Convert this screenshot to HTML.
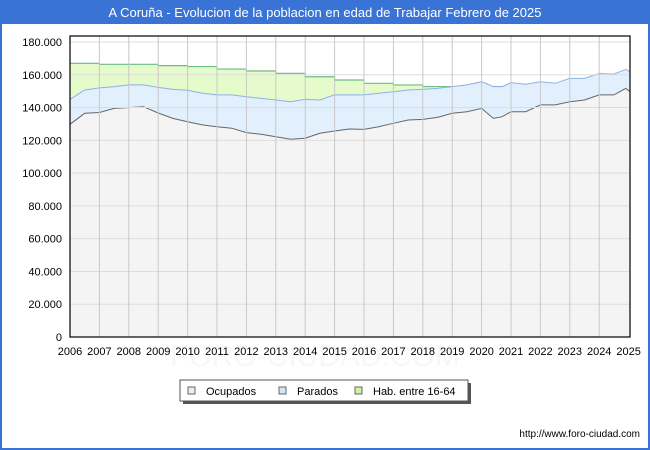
<!DOCTYPE html>
<html><head><meta charset="utf-8"><style>
body{margin:0;background:#fff;font-family:"Liberation Sans","DejaVu Sans",sans-serif}
#wrap{position:relative;width:646px;height:446px;border:2px solid #3a73d6;background:#fff;overflow:hidden}
#title{position:absolute;left:0;top:0;width:646px;height:22px;background:#3a73d6;color:#fff;font-size:13px;line-height:22px;text-align:center}
</style></head><body>
<div id="wrap">
<div id="title">A Coruña - Evolucion de la poblacion en edad de Trabajar Febrero de 2025</div>
<svg id="chart" width="650" height="450" style="position:absolute;left:-2px;top:-2px"></svg>
</div>
<script>
const dates=[2006.0,2006.5,2007.0,2007.5,2008.0,2008.5,2009.0,2009.5,2010.0,2010.5,2011.0,2011.5,2012.0,2012.5,2013.0,2013.5,2014.0,2014.5,2015.0,2015.5,2016.0,2016.5,2017.0,2017.5,2018.0,2018.5,2019.0,2019.5,2020.0,2020.4,2020.7,2021.0,2021.5,2022.0,2022.5,2023.0,2023.5,2024.0,2024.5,2024.9,2025.1];
const ocupados=[129800,136500,137000,139500,140000,140500,136700,133400,131400,129400,128300,127400,124700,123700,122200,120600,121300,124300,125700,126900,126700,128300,130400,132400,132800,134000,136500,137500,139500,133400,134400,137500,137500,141600,141600,143600,144600,147700,147700,151700,149700];
const paradosTop=[145000,150700,152000,152800,153800,153800,152300,151100,150500,148700,147700,147700,146600,145600,144600,143600,145000,144600,147700,147700,147700,148700,149700,150700,151100,151700,152800,153800,155800,152800,152800,155200,154200,155800,154800,157800,157800,160800,160400,163300,161900];
const parados=paradosTop.map((v,i)=>v-ocupados[i]);
const habYears=[2006,2007,2008,2009,2010,2011,2012,2013,2014,2015,2016,2017,2018,2019,2020,2021,2022,2023,2024,2025];
const hab=[167000,166400,166400,165600,165000,163500,162300,160900,158800,156800,154800,153800,152800,152000,152800,153800,154000,155000,156000,157000];
const yTicks=[0,20000,40000,60000,80000,100000,120000,140000,160000,180000];
const xTicks=[2006,2007,2008,2009,2010,2011,2012,2013,2014,2015,2016,2017,2018,2019,2020,2021,2022,2023,2024,2025];

const L=70,R=630,T=36,B=337;
const X=v=>70+(v-2006)*29.4;
const Y=v=>337-v*295/180000;
const NS='http://www.w3.org/2000/svg';
const svg=document.getElementById('chart');
function mk(tag,attrs,parent){const e=document.createElementNS(NS,tag);for(const k in attrs)e.setAttribute(k,attrs[k]);(parent||svg).appendChild(e);return e;}
const fmt=v=>v===0?'0':(v/1000).toFixed(3);

// watermark
let wm=mk('text',{x:315,y:366,'font-size':30,fill:'#f7f7fb','text-anchor':'middle'});


wm.textContent='FORO-CIUDAD.COM';

// green area (stepped)
let hp=[];habYears.forEach((y,i)=>{const x0=X(y),x1=Math.min(X(y+1),R);if(x0<R){hp.push([x0,Y(hab[i])]);hp.push([x1,Y(hab[i])]);}});
let ga=mk('path',{d:'M'+L+','+B+' '+hp.map(p=>'L'+p[0].toFixed(1)+','+p[1].toFixed(1)).join(' ')+' L'+R+','+B+'Z',fill:'#e5fbcc'});


let gl=mk('polyline',{points:hp.map(p=>p.join(',')).join(' '),fill:'none',stroke:'#6dbb85','stroke-width':1.2});



function area(vals,fill,stroke,name){
  const pts=dates.map((d,i)=>[Math.min(X(d),R),Y(vals[i])]);
  const a=mk('path',{d:'M'+L+','+B+' '+pts.map(p=>'L'+p[0].toFixed(1)+','+p[1].toFixed(1)).join(' ')+' L'+R+','+B+'Z',fill:fill});
  
  
  const l=mk('polyline',{points:pts.map(p=>p[0].toFixed(1)+','+p[1].toFixed(1)).join(' '),fill:'none',stroke:stroke,'stroke-width':1});
  
  
}
area(ocupados.map((v,i)=>v+parados[i]),'#e2f0fd','#8fb0e8','parados');
area(ocupados,'#f4f4f4','#666666','ocupados');

// grid
yTicks.forEach(v=>{
  const g=mk('line',{x1:L,x2:R,y1:Y(v),y2:Y(v),stroke:'#dddddd','stroke-width':1});
  
  
  const t=mk('text',{x:62,y:Y(v)+4,'font-size':11,'text-anchor':'end',fill:'#000'});
  
  
  t.textContent=fmt(v);
});
xTicks.forEach(v=>{
  if(v>2006&&v<2025){const g=mk('line',{x1:X(v),x2:X(v),y1:T,y2:B,stroke:'#c8c8c8','stroke-width':1});
  
  }
  const t=mk('text',{x:X(v),y:355,'font-size':11,'text-anchor':'middle',fill:'#000'});
  
  
  t.textContent=v;
});
let fr=mk('rect',{x:L,y:T,width:R-L,height:B-T,fill:'none',stroke:'#000','stroke-width':1.2});



// legend
const lg=mk('g',{});


mk('rect',{x:183,y:383,width:288,height:21,fill:'#555'},lg);
mk('rect',{x:180,y:380,width:288,height:21,fill:'#fff',stroke:'#555','stroke-width':1},lg);
const items=[['Ocupados','#eeeeee',188],['Parados','#cfe6fb',279],['Hab. entre 16-64','#c9f5a0',355]];
items.forEach(it=>{
  const g=mk('g',{},lg);
  
  
  mk('rect',{x:it[2],y:387,width:7,height:7,fill:it[1],stroke:'#666','stroke-width':1},g);
  const t=mk('text',{x:it[2]+18,y:395,'font-size':11,fill:'#000'},g);
  t.textContent=it[0];
});
let u=mk('text',{x:640,y:437,'font-size':10,'text-anchor':'end',fill:'#000'});


u.textContent='http://www.foro-ciudad.com';
</script>
</body></html>
